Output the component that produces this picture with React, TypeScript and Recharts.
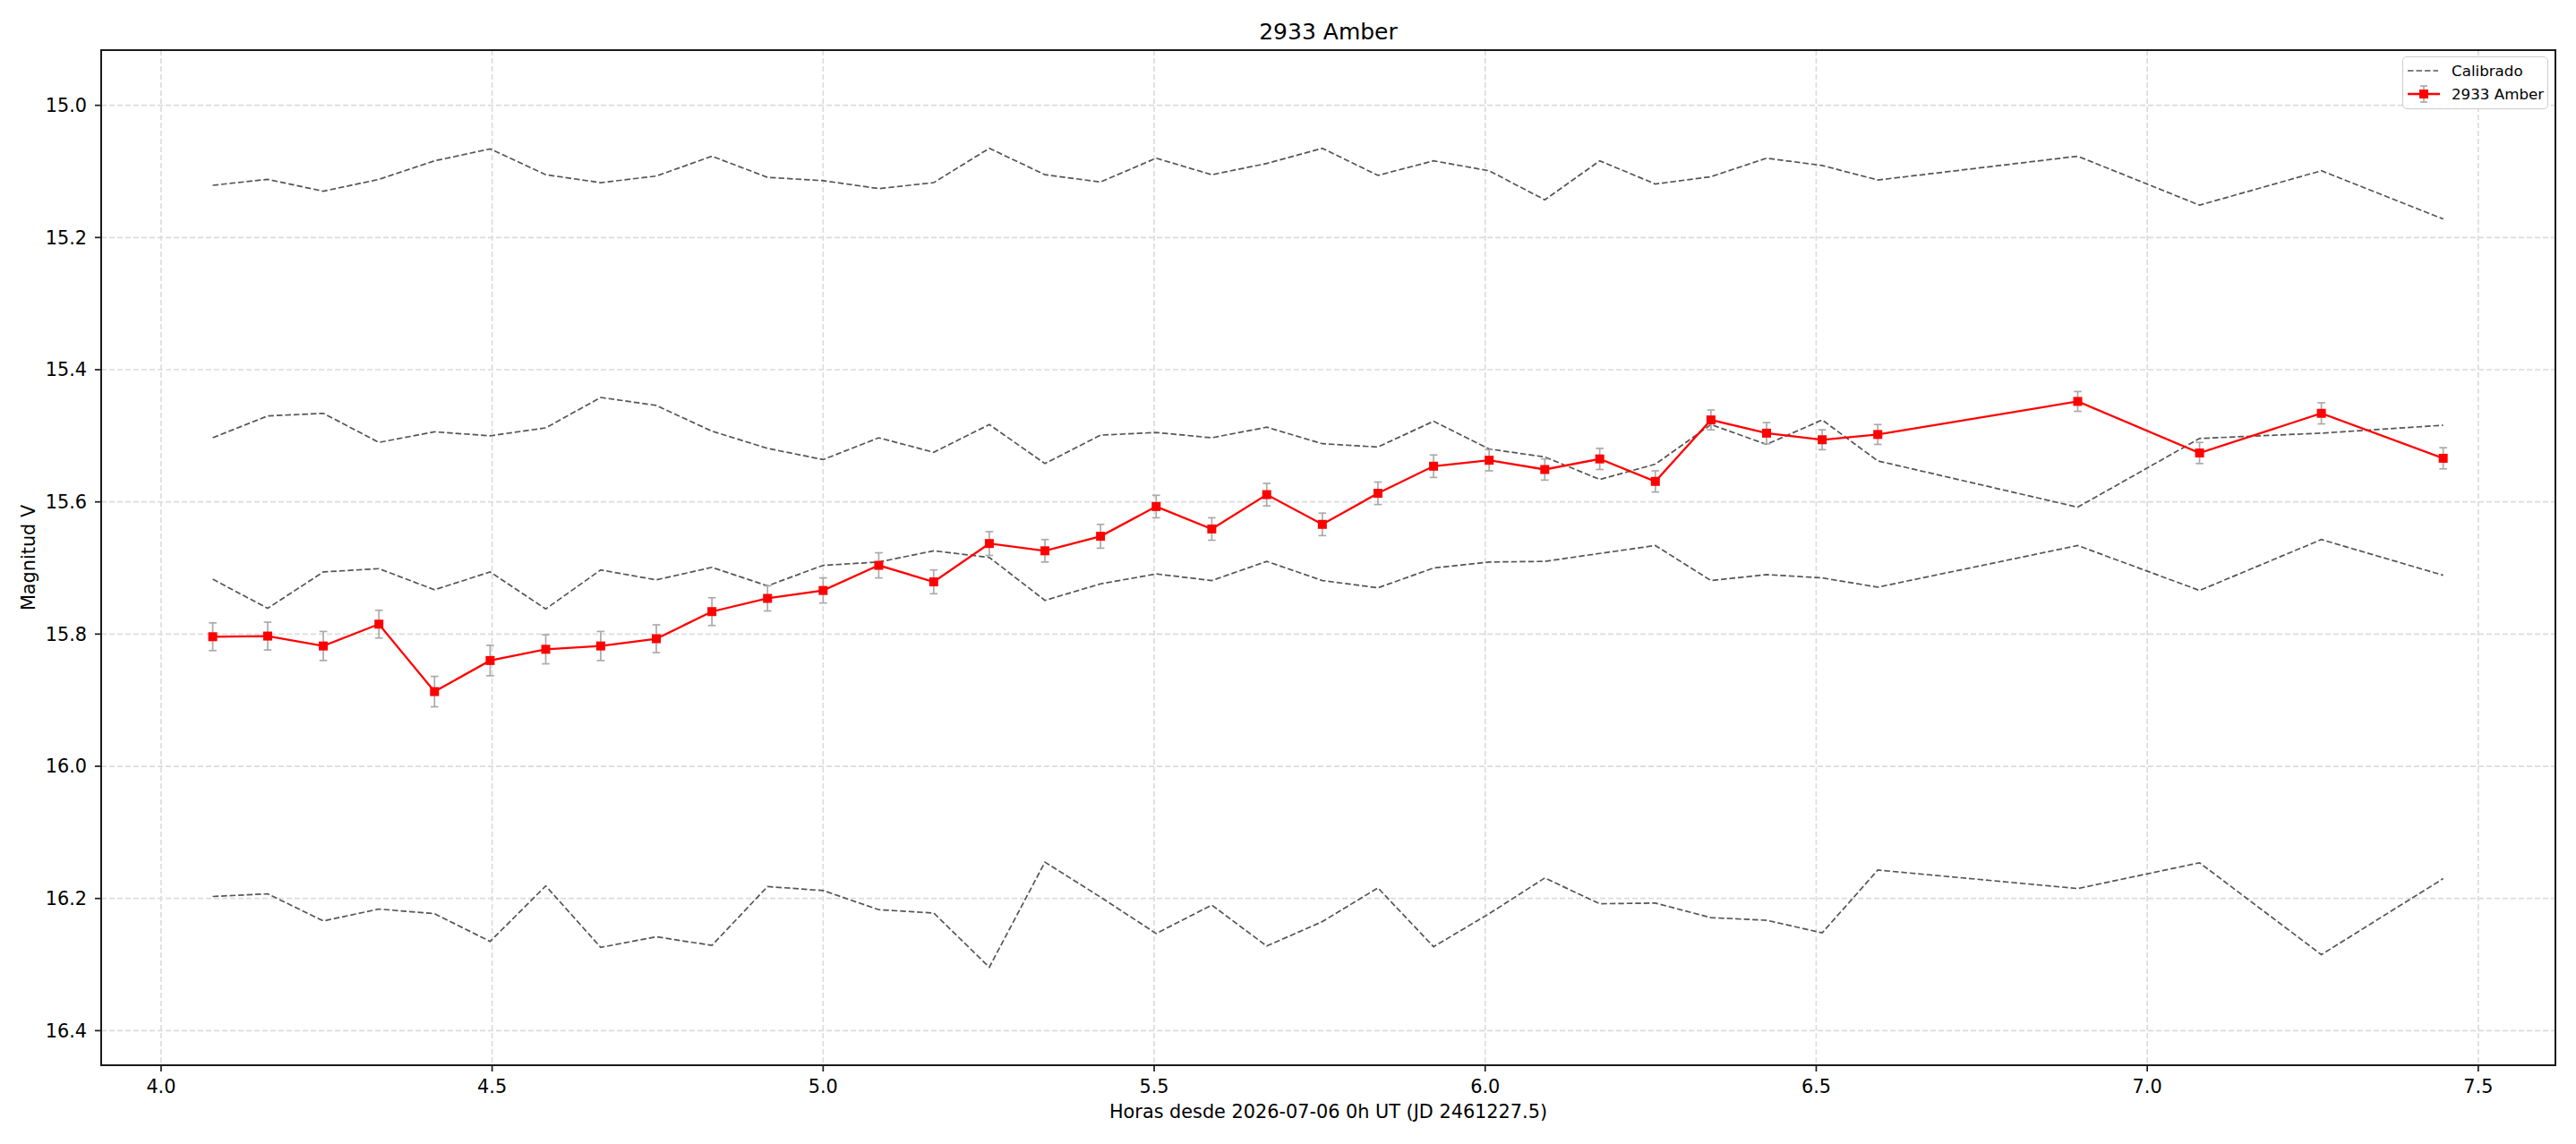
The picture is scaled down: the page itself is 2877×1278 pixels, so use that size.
import React from 'react';
import {
  ComposedChart,
  Line,
  XAxis,
  YAxis,
  CartesianGrid,
  ErrorBar,
  Legend,
  Label,
  ReferenceArea,
} from 'recharts';

// Hours since 2026-07-06 0h UT
const TIME = [
  4.078, 4.161, 4.245, 4.329, 4.413, 4.497, 4.581, 4.664, 4.748, 4.832,
  4.916, 5.0, 5.084, 5.167, 5.251, 5.335, 5.419, 5.503, 5.587, 5.67,
  5.754, 5.838, 5.922, 6.006, 6.09, 6.173, 6.257, 6.341, 6.425, 6.509,
  6.593, 6.895, 7.079, 7.263, 7.447,
];

// Calibrated comparison stars (V magnitude)
const COMP_A = [
  15.121, 15.112, 15.13, 15.112, 15.084, 15.066, 15.105, 15.117, 15.107, 15.077,
  15.109, 15.114, 15.126, 15.117, 15.065, 15.105, 15.116, 15.08, 15.105, 15.088,
  15.065, 15.106, 15.084, 15.099, 15.143, 15.084, 15.119, 15.108, 15.08, 15.091,
  15.113, 15.077, 15.151, 15.099, 15.172,
];
const COMP_B = [
  15.503, 15.47, 15.466, 15.51, 15.494, 15.5, 15.488, 15.442, 15.454, 15.493,
  15.519, 15.536, 15.503, 15.525, 15.483, 15.542, 15.499, 15.495, 15.503, 15.487,
  15.512, 15.517, 15.478, 15.52, 15.532, 15.566, 15.543, 15.483, 15.513, 15.476,
  15.538, 15.608, 15.504, 15.496, 15.484,
];
const COMP_C = [
  15.717, 15.761, 15.706, 15.701, 15.733, 15.706, 15.762, 15.703, 15.718, 15.699,
  15.727, 15.696, 15.691, 15.674, 15.684, 15.749, 15.724, 15.709, 15.719, 15.69,
  15.719, 15.73, 15.7, 15.691, 15.69, 15.678, 15.666, 15.719, 15.71, 15.715,
  15.729, 15.666, 15.734, 15.657, 15.711,
];
const COMP_D = [
  16.197, 16.193, 16.234, 16.216, 16.223, 16.265, 16.181, 16.274, 16.258, 16.271,
  16.182, 16.188, 16.217, 16.222, 16.304, 16.145, 16.198, 16.253, 16.21, 16.272,
  16.235, 16.184, 16.273, 16.223, 16.169, 16.208, 16.207, 16.229, 16.233, 16.252,
  16.157, 16.185, 16.146, 16.285, 16.17,
];

// Target star 2933 Amber and its 1-sigma errors
const TARGET = [
  15.804, 15.803, 15.818, 15.785, 15.887, 15.84, 15.823, 15.818, 15.807, 15.766,
  15.746, 15.734, 15.696, 15.721, 15.663, 15.674, 15.652, 15.607, 15.641, 15.589,
  15.634, 15.587, 15.546, 15.537, 15.551, 15.535, 15.569, 15.476, 15.496, 15.506,
  15.498, 15.448, 15.526, 15.466, 15.534,
];
const TARGET_ERR = [
  0.021, 0.021, 0.022, 0.021, 0.023, 0.023, 0.022, 0.022, 0.021, 0.021,
  0.019, 0.019, 0.019, 0.018, 0.018, 0.017, 0.018, 0.017, 0.017, 0.017,
  0.017, 0.017, 0.017, 0.016, 0.016, 0.016, 0.016, 0.015, 0.016, 0.015,
  0.015, 0.015, 0.016, 0.016, 0.016,
];

const X_TICKS = [4.0, 4.5, 5.0, 5.5, 6.0, 6.5, 7.0, 7.5];
const Y_TICKS = [15.0, 15.2, 15.4, 15.6, 15.8, 16.0, 16.2, 16.4];
const X_DOMAIN = [3.9095, 7.6165];
const Y_DOMAIN = [14.9165, 16.4523];

const COMP_KEYS = ['compA', 'compB', 'compC', 'compD'];

const rows = TIME.map((t, i) => ({
  t,
  compA: COMP_A[i],
  compB: COMP_B[i],
  compC: COMP_C[i],
  compD: COMP_D[i],
  target: TARGET[i],
  err: TARGET_ERR[i],
}));

const FONT = "'DejaVu Sans', 'Liberation Sans', sans-serif";
const SPINE = '#1a1a1a';
const COMP_COLOR = '#555555';
const RED = '#ff0000';
const ERR_COLOR = '#aaaaaa';

const SquareDot = (props: any) => {
  const { cx, cy, index } = props;
  if (cx == null || cy == null) return null;
  return <rect key={`sq-${index}`} x={cx - 5} y={cy - 5} width={10} height={10} fill={RED} />;
};

const LegendBox = () => (
  <div
    style={{
      boxSizing: 'border-box',
      width: 163,
      height: 59,
      border: '1.7px solid #cccccc',
      borderRadius: 5,
      background: 'rgba(255,255,255,0.85)',
      paddingTop: 2,
      fontFamily: FONT,
      fontSize: 16.7,
      color: '#000',
    }}
  >
    <div style={{ display: 'flex', alignItems: 'center', height: 26 }}>
      <svg width={54} height={26} style={{ display: 'block' }}>
        <line x1={5} y1={13} x2={39} y2={13} stroke={COMP_COLOR} strokeWidth={1.7} strokeDasharray="6.5 3" />
      </svg>
      <span>Calibrado</span>
    </div>
    <div style={{ display: 'flex', alignItems: 'center', height: 26 }}>
      <svg width={54} height={26} style={{ display: 'block' }}>
        <line x1={5} y1={13} x2={41} y2={13} stroke={RED} strokeWidth={2.3} />
        <line x1={23} y1={4} x2={23} y2={22} stroke={ERR_COLOR} strokeWidth={1.7} />
        <line x1={19} y1={4} x2={27} y2={4} stroke={ERR_COLOR} strokeWidth={1.7} />
        <line x1={19} y1={22} x2={27} y2={22} stroke={ERR_COLOR} strokeWidth={1.7} />
        <rect x={18} y={8} width={10} height={10} fill={RED} />
      </svg>
      <span>2933 Amber</span>
    </div>
  </div>
);

const YLabel = (props: any) => {
  const vb = props.viewBox || {};
  const x = (vb.x ?? 0) + 39;
  const y = (vb.y ?? 0) + (vb.height ?? 0) / 2;
  return (
    <text
      x={x}
      y={y}
      transform={`rotate(-90, ${x}, ${y})`}
      textAnchor="middle"
      fontFamily={FONT}
      fontSize={20.8}
      fill="#000"
    >
      Magnitud V
    </text>
  );
};

const tickStyle = { fill: '#000', fontSize: 20.8, fontFamily: FONT };

export default function App() {
  return (
    <div style={{ position: 'absolute', left: 0, top: 0, width: 2877, height: 1278, background: '#fff' }}>
      <ComposedChart
        width={2877}
        height={1278}
        data={rows}
        margin={{ top: 56, right: 23, bottom: 0, left: 0 }}
      >
        <CartesianGrid stroke="#dcdcdc" strokeWidth={1.7} strokeDasharray="6 3" />
        <XAxis
          dataKey="t"
          type="number"
          domain={X_DOMAIN}
          ticks={X_TICKS}
          allowDataOverflow
          tickFormatter={(v: number) => v.toFixed(1)}
          height={88}
          tickSize={7}
          tickMargin={9}
          tick={tickStyle}
          axisLine={{ stroke: SPINE, strokeWidth: 2 }}
          tickLine={{ stroke: SPINE, strokeWidth: 1.7 }}
        >
          <Label
            value="Horas desde 2026-07-06 0h UT (JD 2461227.5)"
            position="insideBottom"
            offset={29}
            fontSize={20.8}
            fontFamily={FONT}
            fill="#000"
          />
        </XAxis>
        <YAxis
          type="number"
          reversed
          domain={Y_DOMAIN}
          ticks={Y_TICKS}
          allowDataOverflow
          tickFormatter={(v: number) => v.toFixed(1)}
          width={113}
          tickSize={7}
          tickMargin={9}
          tick={tickStyle}
          axisLine={{ stroke: SPINE, strokeWidth: 2 }}
          tickLine={{ stroke: SPINE, strokeWidth: 1.7 }}
          label={{ content: YLabel }}
        />
        {COMP_KEYS.map((k) => (
          <Line
            key={k}
            dataKey={k}
            type="linear"
            stroke={COMP_COLOR}
            strokeWidth={1.7}
            strokeDasharray="6.5 3"
            dot={false}
            activeDot={false}
            isAnimationActive={false}
            legendType="none"
          />
        ))}
        <Line
          dataKey="target"
          type="linear"
          stroke={RED}
          strokeWidth={2.3}
          dot={SquareDot}
          activeDot={false}
          isAnimationActive={false}
        >
          <ErrorBar dataKey="err" direction="y" width={4.3} stroke={ERR_COLOR} strokeWidth={1.7} isAnimationActive={false} />
        </Line>
        {/* Plot frame (all four spines) and the title above it */}
        <ReferenceArea
          x1={X_DOMAIN[0]}
          x2={X_DOMAIN[1]}
          y1={Y_DOMAIN[0]}
          y2={Y_DOMAIN[1]}
          fill="none"
          fillOpacity={0}
          stroke={SPINE}
          strokeWidth={2}
          ifOverflow="visible"
          label={{
            value: '2933 Amber',
            position: 'top',
            offset: 12.5,
            fontSize: 25,
            fontFamily: FONT,
            fill: '#000',
          }}
        />
        <Legend
          layout="vertical"
          align="center"
          verticalAlign="middle"
          content={LegendBox}
          wrapperStyle={{ top: 63, left: 2683, width: 163, height: 59 }}
        />
      </ComposedChart>
    </div>
  );
}
